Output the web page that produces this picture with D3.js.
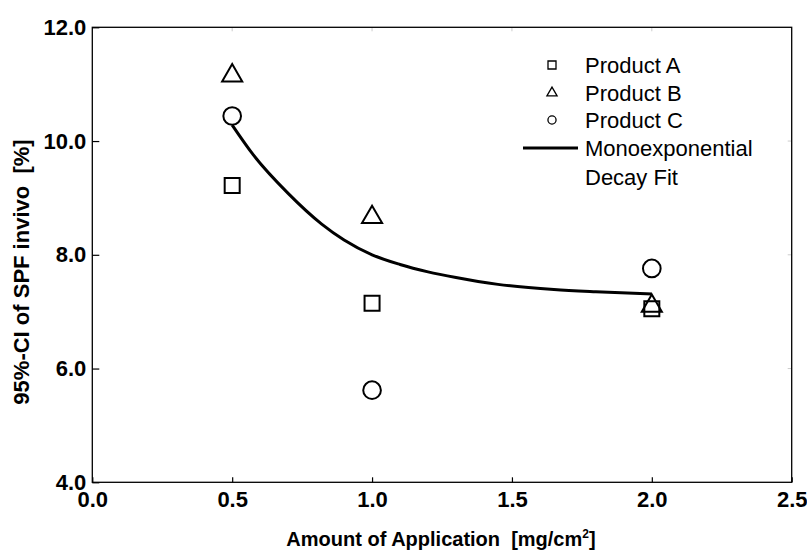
<!DOCTYPE html>
<html>
<head>
<meta charset="utf-8">
<script src="https://cdn.jsdelivr.net/npm/d3@7"></script>
<style>
  body { margin: 0; background: #fff; }
  svg { display: block; font-family: "Liberation Sans", Arial, sans-serif; }
  text { white-space: pre; }
</style>
</head>
<body>
<svg></svg>
<script>
// data
const amounts = [0.5, 1.0, 2.0];
const productA = [9.22, 7.15, 7.05];
const productB = [11.15, 8.66, 7.1];
const productC = [10.44, 5.62, 7.76];

// points along the drawn fit curve
const fitX = [0.5, 0.575, 0.7, 0.82, 0.9, 1.0, 1.1, 1.2, 1.3, 1.45, 1.65, 1.8, 2.0];
const fitY = [10.28, 9.76, 9.08, 8.54, 8.26, 8.0, 7.83, 7.7, 7.6, 7.48, 7.39, 7.35, 7.31];

const xTicks = [0, 0.5, 1.0, 1.5, 2.0, 2.5];
const yTicks = [4, 6, 8, 10, 12];
const legendLabels = ["Product A", "Product B", "Product C"];

const size = { w: 807, h: 551 };
const plot = { l: 92.3, r: 791.7, t: 27.3, b: 482.3 };

const svg = d3.select("svg").attr("width", size.w).attr("height", size.h);

const x = d3.scaleLinear().domain([0, 2.5]).range([plot.l, plot.r]);
const y = d3.scaleLinear().domain([4, 12]).range([plot.b, plot.t]);

// faint mirrored ticks on top and right
svg.append("g")
  .selectAll("line")
  .data(xTicks.slice(1, -1))
  .join("line")
  .attr("x1", (d) => x(d)).attr("x2", (d) => x(d))
  .attr("y1", plot.t).attr("y2", plot.t + 4)
  .attr("stroke", "#ccc");
svg.append("g")
  .selectAll("line")
  .data(yTicks.slice(1, -1))
  .join("line")
  .attr("x1", plot.r - 4).attr("x2", plot.r)
  .attr("y1", (d) => y(d)).attr("y2", (d) => y(d))
  .attr("stroke", "#ccc");

// axes
const xAxis = svg.append("g")
  .attr("transform", `translate(0,${plot.b})`)
  .call(d3.axisBottom(x).tickValues(xTicks).tickFormat(d3.format(".1f"))
    .tickSize(-5).tickSizeOuter(0).tickPadding(9));
const yAxis = svg.append("g")
  .attr("transform", `translate(${plot.l},0)`)
  .call(d3.axisLeft(y).tickValues(yTicks).tickFormat(d3.format(".1f"))
    .tickSize(-7).tickSizeOuter(0).tickPadding(6));

[xAxis, yAxis].forEach((g) => {
  g.select(".domain").remove();
  g.selectAll(".tick line").attr("stroke", "#000").attr("stroke-width", 1.2);
  g.selectAll(".tick text")
    .attr("fill", "#000")
    .style("font-size", "22px")
    .style("font-weight", "bold");
});

// frame
svg.append("rect")
  .attr("x", plot.l).attr("y", plot.t)
  .attr("width", plot.r - plot.l).attr("height", plot.b - plot.t)
  .attr("fill", "none").attr("stroke", "#000").attr("stroke-width", 1.3);

// fit curve
const line = d3.line()
  .x((d) => x(d[0]))
  .y((d) => y(d[1]))
  .curve(d3.curveMonotoneX);
svg.append("path")
  .datum(fitX.map((v, i) => [v, fitY[i]]))
  .attr("d", line)
  .attr("fill", "none")
  .attr("stroke", "#000")
  .attr("stroke-width", 3);

// markers
const series = [
  { vals: productA, type: d3.symbolSquare, s: 225, ls: 64 },
  { vals: productB, type: d3.symbolTriangle, s: 175, ls: 45 },
  { vals: productC, type: d3.symbolCircle, s: 245, ls: 52 },
];
series.forEach((sr) => {
  svg.append("g")
    .selectAll("path")
    .data(amounts.map((a, i) => [a, sr.vals[i]]))
    .join("path")
    .attr("transform", (d) => `translate(${x(d[0])},${y(d[1])})`)
    .attr("d", d3.symbol().type(sr.type).size(sr.s))
    .attr("fill", "none")
    .attr("stroke", "#000")
    .attr("stroke-width", 2);
});

// legend
const legend = svg.append("g").style("font-size", "22px");
const rowY = [65, 93, 120];
series.forEach((sr, i) => {
  legend.append("path")
    .attr("transform", `translate(552,${rowY[i]})`)
    .attr("d", d3.symbol().type(sr.type).size(sr.ls))
    .attr("fill", "none")
    .attr("stroke", "#000")
    .attr("stroke-width", 1.3);
  legend.append("text")
    .attr("x", 585).attr("y", rowY[i]).attr("dy", "0.35em")
    .text(legendLabels[i]);
});
legend.append("line")
  .attr("x1", 523).attr("x2", 578).attr("y1", 148).attr("y2", 148)
  .attr("stroke", "#000").attr("stroke-width", 3);
legend.append("text").attr("x", 585).attr("y", 148).attr("dy", "0.35em").text("Monoexponential");
legend.append("text").attr("x", 585).attr("y", 177).attr("dy", "0.35em").text("Decay Fit");

// axis titles
const xt = svg.append("text")
  .attr("x", 441).attr("y", 546)
  .attr("text-anchor", "middle")
  .style("font-size", "20px").style("font-weight", "bold");
xt.append("tspan").text("Amount of Application  [mg/cm");
xt.append("tspan").attr("dy", -8).style("font-size", "12px").text("2");
xt.append("tspan").attr("dy", 8).text("]");

svg.append("text")
  .attr("transform", "translate(29,272) rotate(-90)")
  .attr("text-anchor", "middle")
  .style("font-size", "22px").style("font-weight", "bold")
  .text("95%-CI of SPF invivo  [%]");
</script>
</body>
</html>
